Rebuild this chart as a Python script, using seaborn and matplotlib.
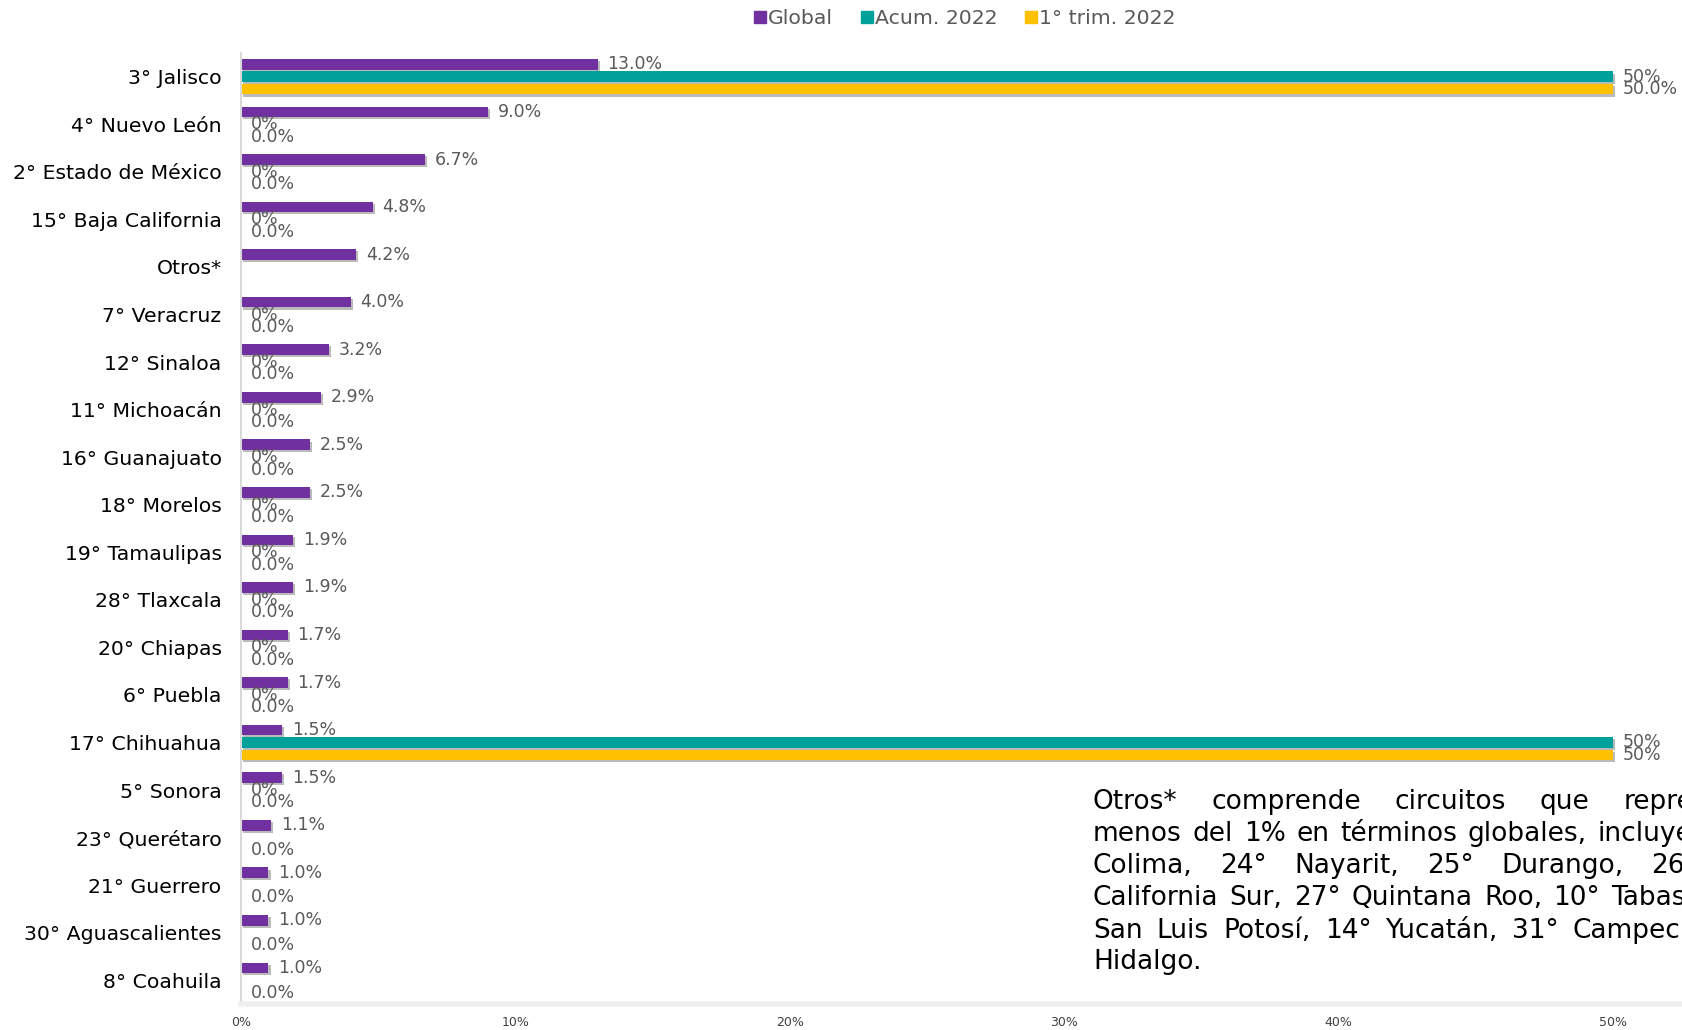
import numpy as np
import pandas as pd
import seaborn as sns
import matplotlib.pyplot as plt
import matplotlib.patheffects as pe
from matplotlib.lines import Line2D

# datos
categorias = ["3° Jalisco", "4° Nuevo León", "2° Estado de México", "15° Baja California",
              "Otros*", "7° Veracruz", "12° Sinaloa", "11° Michoacán", "16° Guanajuato",
              "18° Morelos", "19° Tamaulipas", "28° Tlaxcala", "20° Chiapas", "6° Puebla",
              "17° Chihuahua", "5° Sonora", "23° Querétaro", "21° Guerrero",
              "30° Aguascalientes", "8° Coahuila"]
global_vals = [13.0, 9.0, 6.7, 4.8, 4.2, 4.0, 3.2, 2.9, 2.5, 2.5, 1.9, 1.9, 1.7, 1.7,
               1.5, 1.5, 1.1, 1.0, 1.0, 1.0]
acum_vals = [50, 0, 0, 0, np.nan, 0, 0, 0, 0, 0, 0, 0, 0, 0, 50, 0,
             np.nan, np.nan, np.nan, np.nan]
trim_vals = [50, 0, 0, 0, np.nan, 0, 0, 0, 0, 0, 0, 0, 0, 0, 50, 0, 0, 0, 0, 0]
acum_labels = ["50%", "0%", "0%", "0%", "", "0%", "0%", "0%", "0%", "0%", "0%", "0%",
               "0%", "0%", "50%", "0%", "", "", "", ""]
trim_labels = ["50.0%", "0.0%", "0.0%", "0.0%", "", "0.0%", "0.0%", "0.0%", "0.0%",
               "0.0%", "0.0%", "0.0%", "0.0%", "0.0%", "50%", "0.0%", "0.0%", "0.0%",
               "0.0%", "0.0%"]
series = ["Global", "Acum. 2022", "1° trim. 2022"]
colores = ["#7030A0", "#00A19A", "#FFC000"]
xticks = [0, 10, 20, 30, 40, 50]

nota = [
    "Otros* comprende circuitos que representan",
    "menos del 1% en términos globales, incluyendo 9°",
    "Colima, 24° Nayarit, 25° Durango, 26° Baja",
    "California Sur, 27° Quintana Roo, 10° Tabasco, 13°",
    "San Luis Potosí, 14° Yucatán, 31° Campeche, 29°",
    "Hidalgo.",
]

df = pd.DataFrame({"estado": categorias, series[0]: global_vals,
                   series[1]: acum_vals, series[2]: trim_vals})
df = df.melt(id_vars="estado", var_name="serie", value_name="valor").fillna(0)

sns.set_theme(style="white")
plt.rcParams['font.family'] = ['DejaVu Sans']

W, H = 1683, 1030
fig = plt.figure(figsize=(W / 100, H / 100), dpi=100)
ax = fig.add_axes([241 / W, 1 - 1004 / H, 1 - 241 / W, (1004 - 53) / H])

sns.barplot(data=df, y="estado", x="valor", hue="serie", hue_order=series,
            palette=colores, orient="h", width=0.78, saturation=1, ax=ax, legend=False)

for p in ax.patches:
    h = p.get_height()
    nh = h * 0.86
    p.set_y(p.get_y() + (h - nh) / 2)
    p.set_height(nh)
    p.set_linewidth(0)
    p.set_path_effects([pe.SimplePatchShadow(offset=(1.5, -1.5), shadow_rgbFace="#777777", alpha=0.5),
                        pe.Normal()])

labels_all = [[f"{v:.1f}%" for v in global_vals], acum_labels, trim_labels]
for cont, labs in zip(ax.containers, labels_all):
    ax.bar_label(cont, labels=labs, padding=7, fontsize=12.5, color="#595959")

ax.set_xlim(0, 50 * (W - 241) / (1613 - 241))
ax.set_xticks(xticks)
ax.set_xticklabels([f"{t}%" for t in xticks])
for t in ax.get_xticklabels():
    t.set_family(["Liberation Sans Narrow", "DejaVu Sans"])
ax.tick_params(axis="x", length=0, pad=9, labelsize=9, labelcolor="#404040")
ax.tick_params(axis="y", length=0, pad=14, labelsize=14.7, labelcolor="black")
ax.set_xlabel("")
ax.set_ylabel("")
for s in ["top", "right"]:
    ax.spines[s].set_visible(False)
ax.spines["left"].set_color("#D9D9D9")
ax.spines["left"].set_linewidth(1.5)
ax.spines["bottom"].set_color("#EFEFEF")
ax.spines["bottom"].set_linewidth(4)

handles = [Line2D([], [], marker="s", linestyle="", markersize=8, color=c) for c in colores]
fig.legend(handles, series, loc="center", bbox_to_anchor=(964 / W, 1 - 19 / H), ncol=3,
           frameon=False, fontsize=14.7, handletextpad=0.05, columnspacing=1.3,
           handlelength=0.7, labelcolor="#595959")

# nota justificada
renderer = fig.canvas.get_renderer()
x0, ancho = 1093, 690
ys = [802, 834, 866, 898, 931, 962]
for i, (linea, y) in enumerate(zip(nota, ys)):
    palabras = linea.split(" ")
    objs = [fig.text(0, 1 - y / H, w, fontsize=19, color="black", va="center") for w in palabras]
    anchos = [o.get_window_extent(renderer).width for o in objs]
    if i < len(nota) - 1 and len(palabras) > 1:
        gap = (ancho - sum(anchos)) / (len(palabras) - 1)
    else:
        gap = 0.33 * 19 * 100 / 72
    x = x0
    for o, a in zip(objs, anchos):
        o.set_x(x / W)
        x += a + gap

fig.savefig("out.png", dpi=100)
